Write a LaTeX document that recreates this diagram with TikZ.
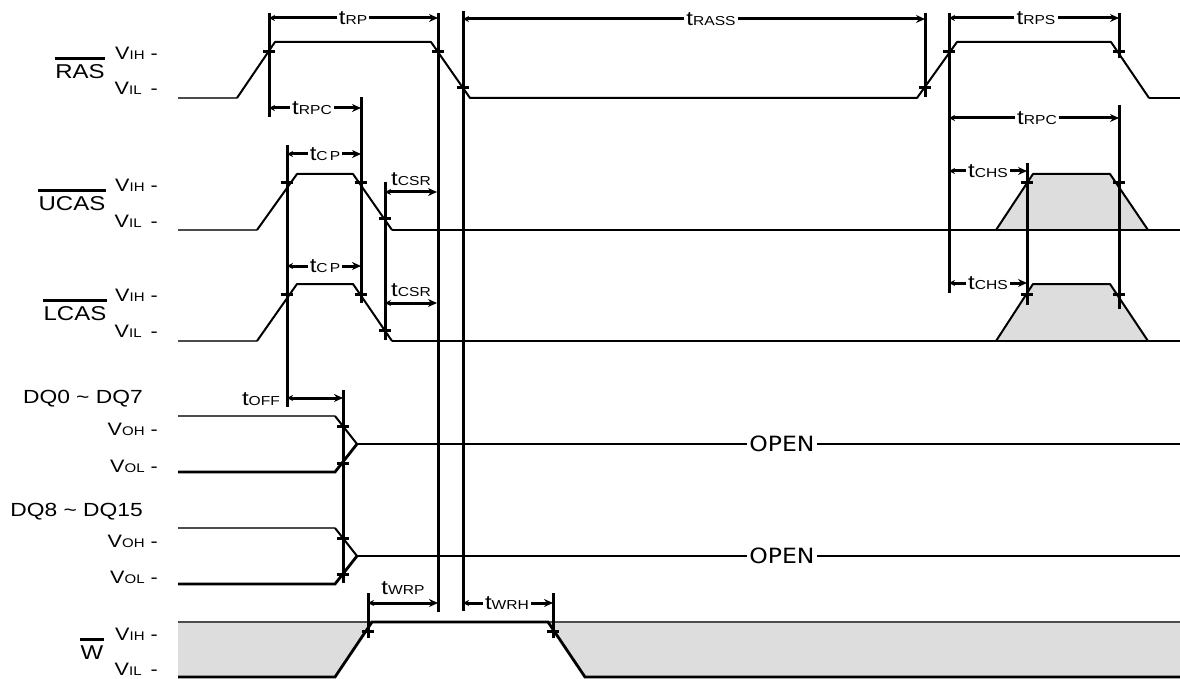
\documentclass[tikz,border=0pt]{standalone}
\usepackage{fontspec}
\setmainfont{Liberation Sans}[FakeStretch=1.2]
\newfontfamily\openfont{DejaVu Sans}[FakeStretch=1.12]
\usetikzlibrary{arrows.meta}
\newcommand{\TLab}[1]{{\fontsize{20}{21}\selectfont t}{\fontsize{13}{14}\selectfont #1}}
\newcommand{\VLab}[2]{{\fontsize{18}{20}\selectfont V}{\fontsize{12.5}{13}\selectfont #1}\hspace{#2}{\fontsize{18}{20}\selectfont -}}
\tikzset{
 sig/.style={line width=2pt, line join=round},
 sigthin/.style={line width=1.4pt, black!70},
 sigthick/.style={line width=2.8pt},
 vbar/.style={line width=3pt},
 tickmark/.style={line width=3pt},
 dimarr/.style={line width=3pt, -{Stealth[length=9pt,width=8pt]}},
 dimarrl/.style={line width=3pt, -{Stealth[length=6pt,width=6pt]}},
 dimboth/.style={line width=3pt, {Stealth[length=6pt,width=6pt]}-{Stealth[length=9pt,width=8pt]}},
 inl/.style={fill=white, inner sep=2pt, text depth=0pt, anchor=center},
 above/.style={inner sep=0pt, text depth=0pt, anchor=center},
 vlabel/.style={inner sep=0pt, anchor=east},
 signame/.style={inner sep=0pt, text depth=0pt, font=\fontsize{20}{22}\selectfont},
 grp/.style={inner sep=0pt, anchor=east, font=\fontsize{19}{21}\selectfont},
 openlab/.style={inner sep=2pt, font=\openfont\fontsize{21}{22}\selectfont},
 oline/.style={line width=3pt},
}
\begin{document}
\begin{tikzpicture}[x=1pt,y=-1pt]
\useasboundingbox (0,0) rectangle (1180,679);

% ---- gray regions
\fill[gray!27] (178,622) -- (372,622) -- (335,677) -- (178,677) -- cycle;
\fill[gray!27] (548,622) -- (1180,622) -- (1180,677) -- (585,677) -- cycle;
\filldraw[fill=gray!27, sig] (996,230) -- (1033,174) -- (1110,174) -- (1148,230);
\filldraw[fill=gray!27, sig] (996,341) -- (1033,284) -- (1110,284) -- (1148,341);

% ---- RAS
\draw[sigthin] (178,98) -- (237,98);
\draw[sig] (237,98) -- (275,42) -- (431,42) -- (470,98) -- (917,98) -- (957,42) -- (1111,42) -- (1149,98);
\draw[sigthick] (1149,98) -- (1180,98);
% ---- UCAS
\draw[sigthin] (178,230) -- (257,230);
\draw[sig] (257,230) -- (297,174) -- (353,174) -- (392,230);
\draw[sigthick] (392,230) -- (1180,230);
% ---- LCAS
\draw[sigthin] (178,341) -- (257,341);
\draw[sig] (257,341) -- (297,284) -- (353,284) -- (392,341);
\draw[sigthick] (392,341) -- (1180,341);
% ---- DQ0-7
\draw[sigthin] (178,416) -- (335,416);
\draw[sig] (335,416) -- (357,444);
\draw[sigthick] (178,472) -- (335,472) -- (357,444);
\node[openlab] (open1) at (782,444) {OPEN};
\draw[sigthick] (357,444) -- (open1.west);
\draw[sigthick] (open1.east) -- (1180,444);
% ---- DQ8-15
\draw[sigthin] (178,528) -- (335,528);
\draw[sig] (335,528) -- (357,556);
\draw[sigthick] (178,584) -- (335,584) -- (357,556);
\node[openlab] (open2) at (782,556) {OPEN};
\draw[sigthick] (357,556) -- (open2.west);
\draw[sigthick] (open2.east) -- (1180,556);
% ---- W
\draw[sigthin] (178,622) -- (372,622);
\draw[sigthin] (548,622) -- (1180,622);
\draw[sigthick] (178,677) -- (335,677) -- (372,622) -- (548,622) -- (585,677) -- (1180,677);

% ---- vertical reference lines
\foreach \x/\ya/\yb in {269/13/117, 438/13/612, 463/11/611, 925/13/97, 949/13/293,
  1119/13/58, 1119/105/309, 361/97/303, 287/145/407, 385/182/340, 1027/163/305,
  343/390/583, 368/593/638, 553/593/638}
  \draw[vbar] (\x,\ya) -- (\x,\yb);

% ---- crossing ticks
\foreach \x/\y in {269/52, 438/52, 463/88, 925/88, 949/52, 1119/52,
  287/183, 361/183, 385/218, 1027/183, 1119/183,
  287/294, 361/294, 385/330, 1027/294, 1119/294,
  343/426, 343/463, 343/538, 343/574, 368/631, 553/631}
  \draw[tickmark] (\x-6,\y) -- (\x+6,\y);

% ---- inline dimension labels
\node[inl] (tRP) at (353,18) {\TLab{RP}};
\draw[dimarrl] (tRP.west) -- (269,18);
\draw[dimarr] (tRP.east) -- (438,18);
\node[inl] (tRASS) at (711,19) {\TLab{RASS}};
\draw[dimarrl] (tRASS.west) -- (463,19);
\draw[dimarr] (tRASS.east) -- (925,19);
\node[inl] (tRPS) at (1036,18) {\TLab{RPS}};
\draw[dimarrl] (tRPS.west) -- (949,18);
\draw[dimarr] (tRPS.east) -- (1119,18);
\node[inl] (tRPCa) at (312,108) {\TLab{RPC}};
\draw[dimarrl] (tRPCa.west) -- (269,108);
\draw[dimarr] (tRPCa.east) -- (361,108);
\node[inl] (tRPCb) at (1037,118) {\TLab{RPC}};
\draw[dimarrl] (tRPCb.west) -- (949,118);
\draw[dimarr] (tRPCb.east) -- (1119,118);
\node[inl] (tCPa) at (325,154) {\TLab{C\,P}};
\draw[dimarrl] (tCPa.west) -- (287,154);
\draw[dimarr] (tCPa.east) -- (361,154);
\node[inl] (tCPb) at (325,266) {\TLab{C\,P}};
\draw[dimarrl] (tCPb.west) -- (287,266);
\draw[dimarr] (tCPb.east) -- (361,266);
\node[inl] (tCHSa) at (988,171) {\TLab{CHS}};
\draw[dimarrl] (tCHSa.west) -- (949,171);
\draw[dimarr] (tCHSa.east) -- (1027,171);
\node[inl] (tCHSb) at (988,283) {\TLab{CHS}};
\draw[dimarrl] (tCHSb.west) -- (949,283);
\draw[dimarr] (tCHSb.east) -- (1027,283);
\node[inl] (tWRH) at (507,603) {\TLab{WRH}};
\draw[dimarrl] (tWRH.west) -- (463,603);
\draw[dimarr] (tWRH.east) -- (553,603);

% ---- dimension arrows with labels beside
\coordinate (csrUa) at (385,192); \coordinate (csrUb) at (437,192);
\draw[dimboth] (csrUa) -- (csrUb);
\node[above] (tCSRa) at (411,179) {\TLab{CSR}};
\coordinate (csrLa) at (385,303); \coordinate (csrLb) at (437,303);
\draw[dimboth] (csrLa) -- (csrLb);
\node[above] (tCSRb) at (411,290) {\TLab{CSR}};
\coordinate (offa) at (287,398); \coordinate (offb) at (343,398);
\draw[dimboth] (offa) -- (offb);
\node[above] (tOFF) at (261,399) {\TLab{OFF}};
\coordinate (wrpa) at (368,603); \coordinate (wrpb) at (438,603);
\draw[dimboth] (wrpa) -- (wrpb);
\node[above] (tWRP) at (403,588) {\TLab{WRP}};

% ---- signal names
\node[signame] (ras) at (80,72) {RAS};
\draw[oline] ([yshift=6pt]ras.north west) -- ([yshift=6pt]ras.north east);
\node[signame] (ucas) at (72,204) {UCAS};
\draw[oline] ([yshift=6pt]ucas.north west) -- ([yshift=6pt]ucas.north east);
\node[signame] (lcas) at (75,314) {LCAS};
\draw[oline] ([yshift=6pt]lcas.north west) -- ([yshift=6pt]lcas.north east);
\node[signame] (w) at (92,653) {W};
\draw[oline] ([yshift=6pt]w.north west) -- ([yshift=6pt]w.north east);
\node[grp] (dq0) at (143,399) {DQ0 \textasciitilde{} DQ7};
\node[grp] (dq8) at (143,512) {DQ8 \textasciitilde{} DQ15};

% ---- level labels
\node[vlabel] (rh) at (158,53) {\VLab{IH}{6pt}};
\node[vlabel] (rl) at (158,88) {\VLab{IL}{9pt}};
\node[vlabel] (uh) at (158,185) {\VLab{IH}{6pt}};
\node[vlabel] (ul) at (158,221) {\VLab{IL}{9pt}};
\node[vlabel] (lh) at (158,295) {\VLab{IH}{6pt}};
\node[vlabel] (ll) at (158,331) {\VLab{IL}{9pt}};
\node[vlabel] (d0h) at (158,429) {\VLab{OH}{6pt}};
\node[vlabel] (d0l) at (158,466) {\VLab{OL}{6pt}};
\node[vlabel] (d8h) at (158,541) {\VLab{OH}{6pt}};
\node[vlabel] (d8l) at (158,577) {\VLab{OL}{6pt}};
\node[vlabel] (wh) at (158,634) {\VLab{IH}{6pt}};
\node[vlabel] (wl) at (158,669) {\VLab{IL}{9pt}};
\end{tikzpicture}
\end{document}
